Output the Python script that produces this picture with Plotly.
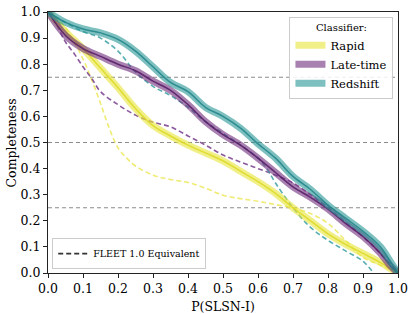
import plotly.graph_objects as go

# ---- data ----
rapid_x = [0, 0.05, 0.1, 0.15, 0.2, 0.25, 0.3, 0.35, 0.4, 0.45, 0.5, 0.55, 0.6, 0.65, 0.7, 0.75, 0.8, 0.85, 0.9, 0.95, 0.98, 1.0]
rapid_y = [1.0, 0.925, 0.86, 0.785, 0.71, 0.63, 0.565, 0.525, 0.49, 0.46, 0.43, 0.39, 0.35, 0.305, 0.25, 0.2, 0.15, 0.11, 0.075, 0.04, 0.015, 0.0]

late_x = [0, 0.05, 0.1, 0.15, 0.2, 0.25, 0.3, 0.35, 0.4, 0.45, 0.5, 0.55, 0.6, 0.65, 0.7, 0.75, 0.8, 0.85, 0.9, 0.95, 0.98, 1.0]
late_y = [1.0, 0.91, 0.86, 0.83, 0.8, 0.775, 0.735, 0.7, 0.645, 0.58, 0.53, 0.49, 0.44, 0.385, 0.33, 0.29, 0.245, 0.19, 0.14, 0.075, 0.025, 0.0]

red_x = [0, 0.05, 0.1, 0.15, 0.2, 0.25, 0.3, 0.35, 0.4, 0.45, 0.5, 0.55, 0.6, 0.65, 0.7, 0.75, 0.8, 0.85, 0.9, 0.95, 0.98, 1.0]
red_y = [1.0, 0.96, 0.935, 0.92, 0.895, 0.85, 0.79, 0.73, 0.695, 0.635, 0.6, 0.555, 0.495, 0.44, 0.37, 0.32, 0.26, 0.21, 0.16, 0.1, 0.04, 0.0]

rapid_f_x = [0, 0.05, 0.1, 0.125, 0.15, 0.175, 0.2, 0.225, 0.25, 0.3, 0.35, 0.4, 0.45, 0.5, 0.55, 0.6, 0.65, 0.7, 0.75, 0.8, 0.85, 0.9, 0.95, 1.0]
rapid_f_y = [1.0, 0.94, 0.82, 0.74, 0.65, 0.555, 0.48, 0.44, 0.41, 0.375, 0.358, 0.347, 0.325, 0.298, 0.285, 0.275, 0.262, 0.249, 0.228, 0.19, 0.125, 0.06, 0.03, 0.0]

late_f_x = [0, 0.025, 0.05, 0.075, 0.1, 0.125, 0.15, 0.2, 0.25, 0.3, 0.35, 0.4, 0.45, 0.5, 0.55, 0.6, 0.65, 0.7, 0.75, 0.8, 0.85, 0.9, 0.95, 1.0]
late_f_y = [1.0, 0.95, 0.885, 0.84, 0.79, 0.745, 0.695, 0.645, 0.605, 0.578, 0.56, 0.525, 0.49, 0.452, 0.425, 0.4, 0.375, 0.345, 0.3, 0.25, 0.195, 0.14, 0.075, 0.0]

red_f_x = [0, 0.05, 0.1, 0.15, 0.2, 0.25, 0.3, 0.35, 0.4, 0.45, 0.5, 0.55, 0.6, 0.625, 0.65, 0.7, 0.75, 0.8, 0.85, 0.9, 0.93]
red_f_y = [1.0, 0.96, 0.925, 0.9, 0.85, 0.77, 0.715, 0.68, 0.635, 0.58, 0.535, 0.49, 0.44, 0.4, 0.345, 0.25, 0.175, 0.125, 0.085, 0.045, 0.0]

ref_levels = [0.25, 0.5, 0.75]
ticks = [0.0, 0.1, 0.2, 0.3, 0.4, 0.5, 0.6, 0.7, 0.8, 0.9, 1.0]

series = [
    ("Rapid", rapid_x, rapid_y, rapid_f_x, rapid_f_y,
     "rgba(232,228,55,0.6)", "rgba(222,218,40,0.9)", "rgba(236,232,90,0.85)"),
    ("Late-time", late_x, late_y, late_f_x, late_f_y,
     "rgba(110,45,125,0.6)", "rgba(85,25,100,0.85)", "rgba(120,60,140,0.85)"),
    ("Redshift", red_x, red_y, red_f_x, red_f_y,
     "rgba(40,150,150,0.6)", "rgba(30,130,135,0.85)", "rgba(60,160,165,0.85)"),
]

FONT = "DejaVu Serif"
fig = go.Figure()

for lvl in ref_levels:
    fig.add_trace(go.Scatter(x=[0, 1], y=[lvl, lvl], mode="lines",
                             line=dict(color="rgba(128,128,128,0.9)", width=1.2, dash="4px,3px"),
                             showlegend=False, hoverinfo="skip"))

for name, x, y, fx, fy, band, center, dcol in series:
    fig.add_trace(go.Scatter(x=fx, y=fy, mode="lines", line=dict(color=dcol, width=1.6, dash="5px,3px"),
                             showlegend=False, line_shape="spline"))

for name, x, y, fx, fy, band, center, dcol in series:
    fig.add_trace(go.Scatter(x=x, y=y, mode="lines", name=name,
                             line=dict(color=band, width=7), line_shape="spline",
                             legend="legend"))
    fig.add_trace(go.Scatter(x=x, y=y, mode="lines", showlegend=False,
                             line=dict(color=center, width=1.5), line_shape="spline"))

fig.add_trace(go.Scatter(x=[None], y=[None], mode="lines", name="FLEET 1.0 Equivalent",
                         line=dict(color="#333333", width=1.6, dash="5px,3px"), legend="legend2"))

axis_common = dict(range=[0, 1], tickvals=ticks, ticktext=[f"{t:.1f}" for t in ticks],
                   showgrid=False, zeroline=False, showline=True, linecolor="#222", linewidth=1,
                   mirror=True, ticks="outside", ticklen=4, tickcolor="#222", automargin=False,
                   tickfont=dict(family=FONT, size=12.5, color="#000"))

fig.update_layout(
    width=415, height=314,
    margin=dict(l=48, r=17, t=12, b=41),
    paper_bgcolor="white", plot_bgcolor="white",
    font=dict(family=FONT, color="#000"),
    xaxis=dict(**axis_common, title=dict(text="P(SLSN-I)", font=dict(family=FONT, size=12.5))),
    yaxis=dict(**axis_common),
    legend=dict(x=0.987, y=0.982, xanchor="right", yanchor="top",
                bgcolor="rgba(255,255,255,0.85)", bordercolor="#cccccc", borderwidth=1,
                title=dict(text="Classifier:", side="top center", font=dict(family=FONT, size=10)),
                font=dict(family=FONT, size=11.5), itemwidth=30, tracegroupgap=0),
    legend2=dict(x=0.012, y=0.015, xanchor="left", yanchor="bottom",
                 bgcolor="rgba(255,255,255,0.85)", bordercolor="#cccccc", borderwidth=1,
                 font=dict(family=FONT, size=9.5), itemwidth=30),
    annotations=[dict(text="Completeness", xref="paper", yref="paper", x=-0.103, y=0.5,
                      xanchor="center", yanchor="middle", textangle=-90, showarrow=False,
                      font=dict(family=FONT, size=12.5, color="#000"))],
)

fig.write_html("out.html", config={"displayModeBar": False},
               post_script="document.body.style.margin='0';document.body.style.overflow='hidden';")
